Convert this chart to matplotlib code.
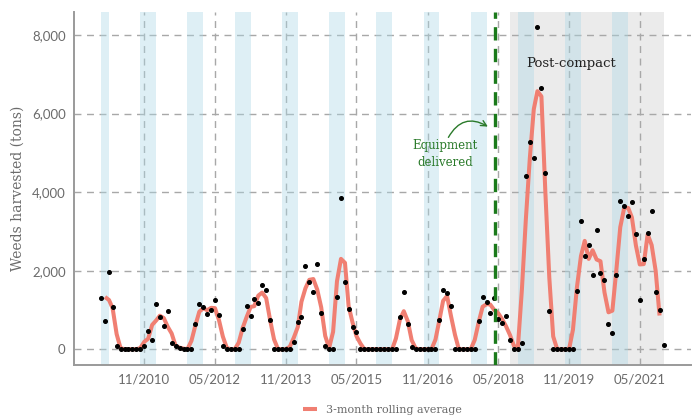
import numpy as np
import pandas as pd
import matplotlib
matplotlib.use("Agg")
import matplotlib.pyplot as plt
import matplotlib.dates as mdates

# ---------------------------------------------------------------
# Data: monthly weeds harvested (tons), Dec 2009 .. Nov 2021
# ---------------------------------------------------------------
START_MONTH = "2009-12-01"
harvest = [
    1300, 720, 1970, 1070, 90, 0, 0, 0, 0, 0, 0, 95,          # Dec09-Nov10
    470, 240, 1150, 810, 600, 970, 155, 75, 40, 5, 0, 0,      # Dec10-Nov11
    645, 1160, 1070, 900, 1010, 1250, 880, 90, 0, 0, 0, 0,    # Dec11-Nov12
    510, 1110, 840, 1280, 1170, 1645, 1510, 755, 0, 0, 0, 0,  # Dec12-Nov13
    0, 195, 690, 815, 2120, 1720, 1460, 2180, 925, 92, 0, 0,  # Dec13-Nov14
    1330, 3860, 1710, 1025, 570, 430, 0, 0, 0, 0, 0, 0,       # Dec14-Nov15
    0, 0, 0, 0, 820, 1450, 635, 60, 0, 0, 0, 0,               # Dec15-Nov16
    0, 0, 735, 1515, 1440, 1110, 0, 0, 0, 0, 0, 0,            # Dec16-Nov17
    715, 1330, 1200, 915, 1300, 780, 678, 840, 240, 0, 0, 160,  # Dec17-Nov18
    4410, 5270, 4875, 8190, 6640, 4480, 980, 0, 0, 0, 0, 0,   # Dec18-Nov19
    0, 1490, 3265, 2365, 2645, 1885, 3030, 1935, 1755, 650, 415, 1880,  # Dec19-Nov20
    3780, 3655, 3390, 3740, 2935, 1250, 2290, 2960, 3525, 1465, 1000, 110,  # Dec20-Nov21
]

# winter shading (Oct-Jan), first one clipped at data start
band_starts = ["2009-12-01", "2010-10-01", "2011-10-01", "2012-10-01", "2013-10-01",
               "2014-10-01", "2015-10-01", "2016-10-01", "2017-10-01", "2018-10-01",
               "2019-10-01", "2020-10-01"]
band_ends = ["2010-02-01", "2011-02-01", "2012-02-01", "2013-02-01", "2014-02-01",
             "2015-02-01", "2016-02-01", "2017-02-01", "2018-02-01", "2019-02-01",
             "2020-02-01", "2021-02-01"]

equipment_date = "2018-04-05"
compact_start = "2018-08-01"
compact_end = "2021-11-01"

tick_dates = ["2010-11-01", "2012-05-01", "2013-11-01", "2015-05-01",
              "2016-11-01", "2018-05-01", "2019-11-01", "2021-05-01"]

# ---------------------------------------------------------------
dates = pd.date_range(START_MONTH, periods=len(harvest), freq="MS")
s = pd.Series(harvest, index=dates, dtype=float)
rolling = s.rolling(3, center=True).mean()

SERIF = "DejaVu Serif"
SANS = "Lato"
GREY_TXT = "#6b6b6b"

fig = plt.figure(figsize=(6.94, 4.19), dpi=100)
ax = fig.add_axes([0.1066, 0.129, 0.889, 0.842])

for b0, b1 in zip(band_starts, band_ends):
    ax.axvspan(pd.Timestamp(b0), pd.Timestamp(b1), color="#add8e6", alpha=0.4, lw=0, zorder=1)
ax.axvspan(pd.Timestamp(compact_start), pd.Timestamp(compact_end), color="#d3d3d3",
           alpha=0.45, lw=0, zorder=0.5)

ax.plot(rolling.index, rolling.values, color="#f07f72", lw=2.9, zorder=3,
        label="3-month rolling average", solid_capstyle="butt")
ax.plot(s.index, s.values, "o", color="black", ms=2.6, zorder=4)

ax.axvline(pd.Timestamp(equipment_date), color="#1b7a1b", lw=2.4,
           dashes=(4, 2.5), zorder=5)

ax.text(pd.Timestamp("2019-11-15"), 7280, "Post-compact", family=SERIF, fontsize=9.5,
        ha="center", va="center", color="#222222", zorder=6)
ax.text(pd.Timestamp("2017-03-15"), 4980, "Equipment\ndelivered", family=SERIF,
        fontsize=8.5, ha="center", va="center", color="#2a7a2a", linespacing=1.4, zorder=6)
ax.annotate("", xy=(pd.Timestamp("2018-03-01"), 5630), xytext=(pd.Timestamp("2017-04-01"), 5330),
            arrowprops=dict(arrowstyle="->", color="#2a7a2a", lw=1.0,
                            connectionstyle="arc3,rad=-0.55"), zorder=6)

ax.set_xlim(pd.Timestamp("2009-05-06"), pd.Timestamp("2022-06-01"))
ax.set_ylim(-400, 8580)
ax.set_xticks([pd.Timestamp(d) for d in tick_dates])
ax.xaxis.set_major_formatter(mdates.DateFormatter("%m/%Y"))
ax.set_yticks([0, 2000, 4000, 6000, 8000])
ax.set_yticklabels(["0", "2,000", "4,000", "6,000", "8,000"])
ax.tick_params(length=0, labelsize=9.5, labelcolor=GREY_TXT, pad=6)
for lab in ax.get_xticklabels() + ax.get_yticklabels():
    lab.set_family(SANS)

ax.grid(True, color="#a8a8a8", lw=1.0, dashes=(5, 4))
ax.set_axisbelow(True)
for sp in ["top", "right"]:
    ax.spines[sp].set_visible(False)
for sp in ["left", "bottom"]:
    ax.spines[sp].set_color("#9a9a9a")
    ax.spines[sp].set_linewidth(1.4)

ax.set_ylabel("Weeds harvested (tons)", family=SERIF, fontsize=10, color=GREY_TXT, labelpad=5)

leg = ax.legend(loc="upper center", bbox_to_anchor=(0.5, -0.085), frameon=False,
                handlelength=1.2, prop={"family": SERIF, "size": 8})
for t in leg.get_texts():
    t.set_color(GREY_TXT)

fig.savefig("out.png", dpi=100)
